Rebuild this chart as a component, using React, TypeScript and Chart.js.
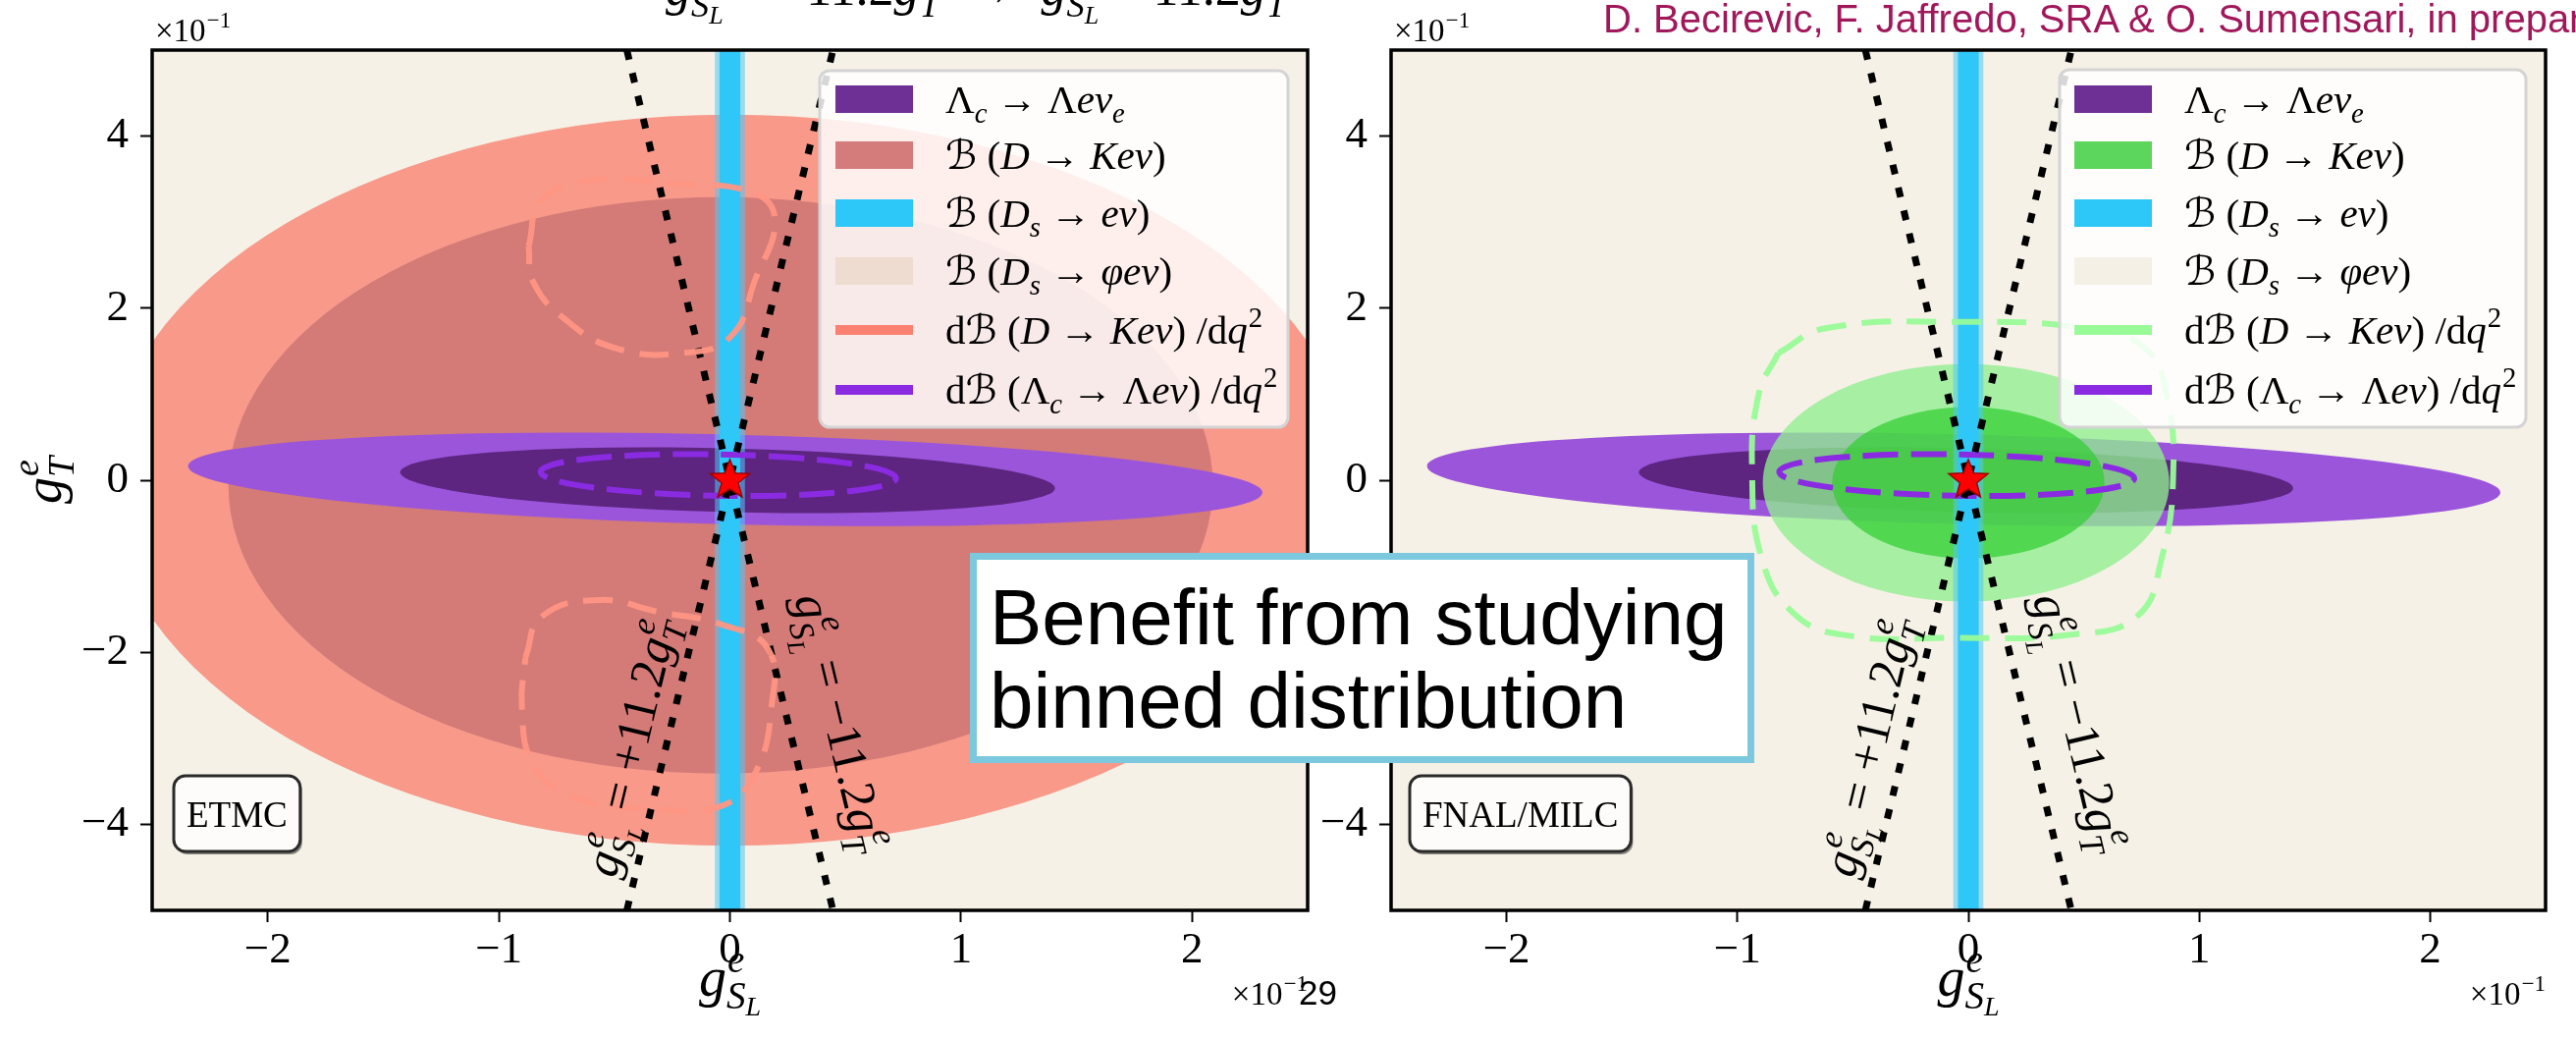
import React, { useEffect, useRef } from 'react';
import { Chart, registerables } from 'chart.js';

Chart.register(...registerables);

// ---------------- data (axis units: 10^-1) ----------------
const X_TICKS = [-2, -1, 0, 1, 2];
const Y_TICKS = [-4, -2, 0, 2, 4];
const X_LIMITS = [-2.5, 2.5];
const Y_LIMITS = [-5, 5];

// ellipses: [cx, cy, rx, ry, tiltDeg]
const ETMC_DK_2SIG = [0.0, 0.0, 2.7, 4.25, 0];
const ETMC_DK_1SIG = [-0.04, -0.06, 2.13, 3.35, 0];
const FNAL_DK_2SIG = [-0.01, -0.03, 0.88, 1.38, 0];
const FNAL_DK_1SIG = [0.0, -0.03, 0.59, 0.88, 0];
const LAMBDA_2SIG = [-0.02, 0.01, 2.33, 0.52, -4];
const LAMBDA_1SIG = [-0.01, 0.0, 1.42, 0.37, -4];
const LAMBDA_BINNED = [-0.05, 0.06, 0.77, 0.24, -3];
// D_s -> e nu vertical band
const DS_ENU_2SIG = [-0.065, 0.065];
const DS_ENU_1SIG = [-0.045, 0.045];
const SM_POINT = [0, 0];
// lines g_SL = +11.2 g_T and g_SL = -11.2 g_T
const LINE_PLUS = [[-0.446, -5], [0.446, 5]];
const LINE_MINUS = [[-0.446, 5], [0.446, -5]];
const LABEL_PLUS_AT = [-0.42, -3.11];
const LABEL_MINUS_AT = [0.47, -2.82];
// binned dB/dq^2 contours
const ETMC_BINNED_UPPER = [
  [-0.871, 2.72], [-0.814, 3.255], [-0.601, 3.485], [-0.246, 3.447], [0.11, 3.332], [0.195, 3.007],
  [0.11, 2.337], [0.003, 1.668], [-0.21, 1.477], [-0.494, 1.534], [-0.708, 1.859], [-0.85, 2.299], [-0.871, 2.72],
];
const ETMC_BINNED_LOWER = [
  [-0.885, -2.062], [-0.814, -1.584], [-0.566, -1.392], [-0.317, -1.526], [-0.033, -1.679], [0.166, -1.966],
  [0.18, -2.635], [0.11, -3.4], [-0.033, -3.783], [-0.317, -3.822], [-0.672, -3.687], [-0.85, -3.305], [-0.9, -2.635], [-0.885, -2.062],
];
const FNAL_BINNED = [
  [-0.823, 1.477], [-0.623, 1.763], [-0.053, 1.84], [0.516, 1.763], [0.766, 1.534], [0.858, 0.999], [0.887, 0.042],
  [0.837, -0.914], [0.73, -1.584], [0.445, -1.794], [-0.053, -1.832], [-0.552, -1.794], [-0.765, -1.526],
  [-0.894, -0.914], [-0.936, 0.042], [-0.908, 0.999], [-0.823, 1.477],
];

// ---------------- text ----------------
type Seg = { t?: string; f?: 'r' | 'i' | 'c'; sup?: string; supF?: 'r' | 'i'; sub?: string; subF?: 'r' | 'i'; subsub?: string; dx?: number };

const G_SL: Seg = { t: 'g', f: 'i', sup: 'e', sub: 'S', subsub: 'L' };
const G_T: Seg = { t: 'g', f: 'i', sup: 'e', sub: 'T' };
const LEGEND_LABELS: Seg[][] = [
  [{ t: 'Λ', sub: 'c' }, { t: ' → ' }, { t: 'Λ' }, { t: 'eν', f: 'i', sub: 'e' }],
  [{ t: 'ℬ', f: 'c' }, { t: ' (' }, { t: 'D', f: 'i' }, { t: ' → ' }, { t: 'Keν', f: 'i' }, { t: ')' }],
  [{ t: 'ℬ', f: 'c' }, { t: ' (' }, { t: 'D', f: 'i', sub: 's' }, { t: ' → ' }, { t: 'eν', f: 'i' }, { t: ')' }],
  [{ t: 'ℬ', f: 'c' }, { t: ' (' }, { t: 'D', f: 'i', sub: 's' }, { t: ' → ' }, { t: 'φeν', f: 'i' }, { t: ')' }],
  [{ t: 'd' }, { t: 'ℬ', f: 'c' }, { t: ' (' }, { t: 'D', f: 'i' }, { t: ' → ' }, { t: 'Keν', f: 'i' }, { t: ') /d' }, { t: 'q', f: 'i', sup: '2', supF: 'r' }],
  [{ t: 'd' }, { t: 'ℬ', f: 'c' }, { t: ' (' }, { t: 'Λ', sub: 'c', subF: 'i' }, { t: ' → ' }, { t: 'Λ' }, { t: 'eν', f: 'i' }, { t: ') /d' }, { t: 'q', f: 'i', sup: '2', supF: 'r' }],
];
const LABEL_PLUS: Seg[] = [G_SL, { t: ' = +11.2' }, G_T];
const LABEL_MINUS: Seg[] = [G_SL, { t: ' = \u221211.2' }, G_T];
const OFFSET_LABEL: Seg[] = [{ t: '×10', sup: '\u22121', supF: 'r' }];
const HEADER: Seg[] = [
  { t: 'g', f: 'i', sub: 'S', subsub: 'L' }, { t: ' = \u221211.2' }, { t: 'g', f: 'i', sub: 'T' },
  { t: '  →  ' }, { t: 'g', f: 'i', sub: 'S', subsub: 'L' }, { t: ' = 11.2' }, { t: 'g', f: 'i', sub: 'T' },
];

const SERIF = "'Liberation Serif', 'DejaVu Serif', serif";
function font(size: number, f: string = 'r') {
  if (f === 'i') return `italic ${size}px ${SERIF}`;
  if (f === 'c') return `italic ${size}px 'DejaVu Serif', 'DejaVu Sans', serif`;
  return `${size}px ${SERIF}`;
}

function drawRich(ctx: CanvasRenderingContext2D, segs: Seg[], x: number, y: number, size: number, draw = true): number {
  let cx = x;
  ctx.textAlign = 'left';
  ctx.textBaseline = 'alphabetic';
  for (const s of segs) {
    if (s.dx) cx += s.dx * size;
    if (s.t) {
      ctx.font = font(size, s.f || 'r');
      if (draw) ctx.fillText(s.t, cx, y);
      cx += ctx.measureText(s.t).width;
    }
    let w = 0;
    if (s.sup) {
      ctx.font = font(size * 0.7, s.supF || 'i');
      if (draw) ctx.fillText(s.sup, cx + 1, y - size * 0.42);
      w = Math.max(w, ctx.measureText(s.sup).width + 1);
    }
    if (s.sub) {
      ctx.font = font(size * 0.7, s.subF || 'i');
      const sy = y + size * 0.24;
      if (draw) ctx.fillText(s.sub, cx, sy);
      let sw = ctx.measureText(s.sub).width;
      if (s.subsub) {
        ctx.font = font(size * 0.5, 'i');
        if (draw) ctx.fillText(s.subsub, cx + sw, sy + size * 0.12);
        sw += ctx.measureText(s.subsub).width;
      }
      w = Math.max(w, sw);
    }
    cx += w;
  }
  return cx - x;
}

// ---------------- panel configs ----------------
const FRAME_T = 51;
const FRAME_B = 927;
const LEGEND_ROWS = [101, 158, 217, 276, 336, 397];
const BG = '#F6F1E6';

const PANELS = [
  {
    canvasLeft: 0, canvasWidth: 1340, frameL: 155, frameR: 1332,
    dk2: ETMC_DK_2SIG, dk1: ETMC_DK_1SIG, dk2Color: '#F8998A', dk1Color: '#D47B78', greenOnTop: false,
    loops: [ETMC_BINNED_UPPER, ETMC_BINNED_LOWER], loopColor: 'rgba(255,150,132,0.95)',
    legendBox: [835, 72, 1312, 435], patchX: [851, 930], textX: 963,
    legendColors: ['#6F3096', '#D47B7B', '#2DC8F8', '#EFDCD0', '#FA8072', '#8A2BE2'],
    tag: 'ETMC', tagX: 177, header: true,
  },
  {
    canvasLeft: 1340, canvasWidth: 1284, frameL: 1417, frameR: 2593,
    dk2: FNAL_DK_2SIG, dk1: FNAL_DK_1SIG, dk2Color: 'rgba(144,238,144,0.78)', dk1Color: 'rgba(50,205,50,0.72)', greenOnTop: true,
    loops: [FNAL_BINNED], loopColor: 'rgba(152,251,152,0.95)',
    legendBox: [2098, 71, 2573, 435], patchX: [2113, 2192], textX: 2225,
    legendColors: ['#6F3096', '#5CD65C', '#2DC8F8', '#F5F0E6', '#98FB98', '#8A2BE2'],
    tag: 'FNAL/MILC', tagX: 1436, header: false,
  },
];

function ellipsePath(chart: any, e: number[]) {
  const ctx: CanvasRenderingContext2D = chart.ctx;
  const xs = chart.scales.x, ys = chart.scales.y;
  const [cx, cy, rx, ry, tilt] = e;
  const px = xs.getPixelForValue(cx), py = ys.getPixelForValue(cy);
  const kx = xs.getPixelForValue(cx + 1) - px;
  const ky = ys.getPixelForValue(cy + 1) - py;
  ctx.save();
  ctx.translate(px, py);
  ctx.scale(kx, ky);
  ctx.rotate((tilt * Math.PI) / 180);
  ctx.beginPath();
  ctx.ellipse(0, 0, rx, ry, 0, 0, Math.PI * 2);
  ctx.restore();
}

function fillEllipse(chart: any, e: number[], color: string) {
  ellipsePath(chart, e);
  chart.ctx.fillStyle = color;
  chart.ctx.fill();
}

function strokeEllipse(chart: any, e: number[], color: string, lw: number, dash: number[]) {
  const ctx = chart.ctx;
  ellipsePath(chart, e);
  ctx.save();
  ctx.strokeStyle = color;
  ctx.lineWidth = lw;
  ctx.setLineDash(dash);
  ctx.stroke();
  ctx.restore();
}

function drawStar(ctx: CanvasRenderingContext2D, x: number, y: number, R: number, r: number) {
  ctx.beginPath();
  for (let i = 0; i < 10; i++) {
    const rad = i % 2 === 0 ? R : r;
    const a = -Math.PI / 2 + (i * Math.PI) / 5;
    const px = x + rad * Math.cos(a), py = y + rad * Math.sin(a);
    if (i === 0) ctx.moveTo(px, py); else ctx.lineTo(px, py);
  }
  ctx.closePath();
  ctx.fillStyle = '#FF0000';
  ctx.fill();
  ctx.lineWidth = 1.5;
  ctx.strokeStyle = '#9B0000';
  ctx.stroke();
}

function drawRotatedLabel(chart: any, segs: Seg[], at: number[], line: number[][], size: number) {
  const ctx: CanvasRenderingContext2D = chart.ctx;
  const xs = chart.scales.x, ys = chart.scales.y;
  const p0 = [xs.getPixelForValue(line[0][0]), ys.getPixelForValue(line[0][1])];
  const p1 = [xs.getPixelForValue(line[1][0]), ys.getPixelForValue(line[1][1])];
  let ang = Math.atan2(p1[1] - p0[1], p1[0] - p0[0]);
  if (ang > Math.PI / 2) ang -= Math.PI;
  if (ang < -Math.PI / 2) ang += Math.PI;
  const cx = xs.getPixelForValue(at[0]), cy = ys.getPixelForValue(at[1]);
  ctx.save();
  ctx.translate(cx, cy);
  ctx.rotate(ang);
  ctx.fillStyle = '#000';
  const w = drawRich(ctx, segs, 0, 0, size, false);
  drawRich(ctx, segs, -w / 2, size * 0.28, size, true);
  ctx.restore();
}

function panelPlugin(cfg: any) {
  const off = cfg.canvasLeft;
  return {
    id: 'panelPlugin',
    beforeDatasetsDraw(chart: any) {
      const ctx: CanvasRenderingContext2D = chart.ctx;
      const a = chart.chartArea;
      ctx.save();
      ctx.beginPath();
      ctx.rect(a.left, a.top, a.right - a.left, a.bottom - a.top);
      ctx.clip();
      ctx.fillStyle = BG;
      ctx.fillRect(a.left, a.top, a.right - a.left, a.bottom - a.top);
      if (!cfg.greenOnTop) {
        fillEllipse(chart, cfg.dk2, cfg.dk2Color);
        fillEllipse(chart, cfg.dk1, cfg.dk1Color);
      }
      fillEllipse(chart, LAMBDA_2SIG, '#9B55DB');
      fillEllipse(chart, LAMBDA_1SIG, '#5D2580');
      if (cfg.greenOnTop) {
        fillEllipse(chart, cfg.dk2, cfg.dk2Color);
        fillEllipse(chart, cfg.dk1, cfg.dk1Color);
      }
      const xs = chart.scales.x;
      const b0 = xs.getPixelForValue(DS_ENU_2SIG[0]), b1 = xs.getPixelForValue(DS_ENU_2SIG[1]);
      ctx.fillStyle = 'rgba(80,200,245,0.55)';
      ctx.fillRect(b0, a.top, b1 - b0, a.bottom - a.top);
      const c0 = xs.getPixelForValue(DS_ENU_1SIG[0]), c1 = xs.getPixelForValue(DS_ENU_1SIG[1]);
      ctx.fillStyle = '#2FC6F8';
      ctx.fillRect(c0, a.top, c1 - c0, a.bottom - a.top);
      strokeEllipse(chart, LAMBDA_BINNED, '#8A2BE2', 6, [36, 13]);
      ctx.restore();
    },
    afterDatasetsDraw(chart: any) {
      const ctx: CanvasRenderingContext2D = chart.ctx;
      const a = chart.chartArea;
      const xs = chart.scales.x, ys = chart.scales.y;
      ctx.save();
      ctx.beginPath();
      ctx.rect(a.left, a.top, a.right - a.left, a.bottom - a.top);
      ctx.clip();
      drawStar(ctx, xs.getPixelForValue(SM_POINT[0]), ys.getPixelForValue(SM_POINT[1]), 21, 9);
      drawRotatedLabel(chart, LABEL_PLUS, LABEL_PLUS_AT, LINE_PLUS, 50);
      drawRotatedLabel(chart, LABEL_MINUS, LABEL_MINUS_AT, LINE_MINUS, 50);
      // legend
      const [x0, y0, x1, y1] = cfg.legendBox;
      ctx.beginPath();
      ctx.roundRect(x0 - off, y0, x1 - x0, y1 - y0, 10);
      ctx.fillStyle = 'rgba(255,255,255,0.84)';
      ctx.fill();
      ctx.lineWidth = 3;
      ctx.strokeStyle = '#D4D4D4';
      ctx.stroke();
      LEGEND_ROWS.forEach((yc, i) => {
        ctx.fillStyle = cfg.legendColors[i];
        const [p0, p1] = cfg.patchX;
        if (i < 4) ctx.fillRect(p0 - off, yc - 14, p1 - p0, 28);
        else ctx.fillRect(p0 - off, yc - 5, p1 - p0, 10);
        ctx.fillStyle = '#000';
        drawRich(ctx, LEGEND_LABELS[i], cfg.textX - off, yc + 14, 41);
      });
      // tag box
      ctx.font = font(37);
      const tw = ctx.measureText(cfg.tag).width;
      const bx = cfg.tagX - off, by = 790, bw = tw + 26, bh = 77;
      ctx.beginPath();
      ctx.roundRect(bx + 2, by + 3, bw, bh, 12);
      ctx.fillStyle = 'rgba(60,60,60,0.6)';
      ctx.fill();
      ctx.beginPath();
      ctx.roundRect(bx, by, bw, bh, 12);
      ctx.fillStyle = '#FDFCFA';
      ctx.fill();
      ctx.lineWidth = 3;
      ctx.strokeStyle = '#2A2A2A';
      ctx.stroke();
      ctx.fillStyle = '#000';
      ctx.textAlign = 'center';
      ctx.textBaseline = 'alphabetic';
      ctx.font = font(37);
      ctx.fillText(cfg.tag, bx + bw / 2, by + bh / 2 + 13);
      ctx.restore();
    },
    afterDraw(chart: any) {
      const ctx: CanvasRenderingContext2D = chart.ctx;
      const a = chart.chartArea;
      ctx.save();
      ctx.lineWidth = 3.5;
      ctx.strokeStyle = '#000';
      ctx.strokeRect(a.left, a.top, a.right - a.left, a.bottom - a.top);
      ctx.fillStyle = '#000';
      // axis titles
      const tx = drawRich(ctx, [G_SL], 0, 0, 56, false);
      drawRich(ctx, [G_SL], (a.left + a.right) / 2 - tx / 2, 1014, 56);
      if (cfg.canvasLeft === 0) {
        ctx.save();
        ctx.translate(62, (a.top + a.bottom) / 2);
        ctx.rotate(-Math.PI / 2);
        const ty = drawRich(ctx, [G_T], 0, 0, 54, false);
        drawRich(ctx, [G_T], -ty / 2, 0, 54);
        ctx.restore();
      }
      // offset labels
      drawRich(ctx, OFFSET_LABEL, a.left + 3, 42, 33);
      const ow = drawRich(ctx, OFFSET_LABEL, 0, 0, 33, false);
      drawRich(ctx, OFFSET_LABEL, a.right - ow, 1023, 33);
      if (cfg.header) drawRich(ctx, HEADER, 678, 5, 52);
      ctx.restore();
    },
  };
}

const fmt = (v: number) => (v < 0 ? '\u2212' + Math.abs(v) : String(v));

function makeChart(canvas: HTMLCanvasElement, cfg: any) {
  const yW = cfg.frameL - cfg.canvasLeft;
  const padR = cfg.canvasLeft + cfg.canvasWidth - cfg.frameR;
  const xH = 1058 - FRAME_B;
  const datasets: any[] = [];
  cfg.loops.forEach((loop: number[][]) =>
    datasets.push({
      data: loop.map(([x, y]) => ({ x, y })),
      showLine: true, fill: false, borderColor: cfg.loopColor, borderWidth: 6,
      borderDash: [30, 16], tension: 0.45, pointRadius: 0, pointHoverRadius: 0,
    })
  );
  [LINE_PLUS, LINE_MINUS].forEach((l) =>
    datasets.push({
      data: l.map(([x, y]) => ({ x, y })),
      showLine: true, fill: false, borderColor: '#000', borderWidth: 7,
      borderDash: [10, 14], borderCapStyle: 'butt', tension: 0, pointRadius: 0, pointHoverRadius: 0,
    })
  );
  const tickFont = { family: 'Liberation Serif', size: 45 };
  return new Chart(canvas, {
    type: 'scatter',
    data: { datasets },
    options: {
      responsive: false,
      animation: false,
      events: [],
      layout: { padding: { left: 0, right: padR, top: FRAME_T, bottom: 0 } },
      plugins: { legend: { display: false }, tooltip: { enabled: false }, title: { display: false } },
      scales: {
        x: {
          type: 'linear', min: X_LIMITS[0], max: X_LIMITS[1],
          afterBuildTicks: (s: any) => { s.ticks = X_TICKS.map((v) => ({ value: v })); },
          afterFit: (s: any) => { s.height = xH; },
          grid: { display: true, drawOnChartArea: false, drawTicks: true, tickLength: 12, tickWidth: 2, tickColor: '#000' },
          border: { display: false },
          ticks: { color: '#000', font: tickFont, padding: 2, maxRotation: 0, autoSkip: false, callback: (v: any) => fmt(Number(v)) },
        },
        y: {
          type: 'linear', min: Y_LIMITS[0], max: Y_LIMITS[1],
          afterBuildTicks: (s: any) => { s.ticks = Y_TICKS.map((v) => ({ value: v })); },
          afterFit: (s: any) => { s.width = yW; },
          grid: { display: true, drawOnChartArea: false, drawTicks: true, tickLength: 12, tickWidth: 2, tickColor: '#000' },
          border: { display: false },
          ticks: { color: '#000', font: tickFont, padding: 12, autoSkip: false, callback: (v: any) => fmt(Number(v)) },
        },
      },
    } as any,
    plugins: [panelPlugin(cfg)],
  });
}

export default function App() {
  const r1 = useRef<HTMLCanvasElement>(null);
  const r2 = useRef<HTMLCanvasElement>(null);
  useEffect(() => {
    const c1 = makeChart(r1.current!, PANELS[0]);
    const c2 = makeChart(r2.current!, PANELS[1]);
    return () => { c1.destroy(); c2.destroy(); };
  }, []);
  const sans = "'Liberation Sans', Arial, sans-serif";
  return (
    <div style={{ position: 'absolute', left: 0, top: 0, width: 2624, height: 1058, background: '#fff', overflow: 'hidden' }}>
      {PANELS.map((p, i) => (
        <canvas
          key={i}
          ref={i === 0 ? r1 : r2}
          width={p.canvasWidth}
          height={1058}
          style={{ position: 'absolute', left: p.canvasLeft, top: 0, width: p.canvasWidth, height: 1058 }}
        />
      ))}
      <div style={{ position: 'absolute', left: 1633, top: -1, fontFamily: sans, fontSize: 40, lineHeight: '40px', color: '#A0185A', whiteSpace: 'nowrap' }}>
        D. Becirevic, F. Jaffredo, SRA &amp; O. Sumensari, in preparation
      </div>
      <div style={{ position: 'absolute', left: 988, top: 563, width: 799, height: 214, boxSizing: 'border-box', border: '7px solid #7CC8DF', background: '#fff' }} />
      <div style={{ position: 'absolute', left: 1008, top: 589, fontFamily: sans, fontSize: 80, lineHeight: '80px', color: '#000', whiteSpace: 'nowrap' }}>
        Benefit from studying
      </div>
      <div style={{ position: 'absolute', left: 1008, top: 674, fontFamily: sans, fontSize: 80, lineHeight: '80px', color: '#000', whiteSpace: 'nowrap' }}>
        binned distribution
      </div>
      <div style={{ position: 'absolute', left: 1323, top: 993, fontFamily: sans, fontSize: 35, lineHeight: '35px', color: '#000' }}>29</div>
    </div>
  );
}
